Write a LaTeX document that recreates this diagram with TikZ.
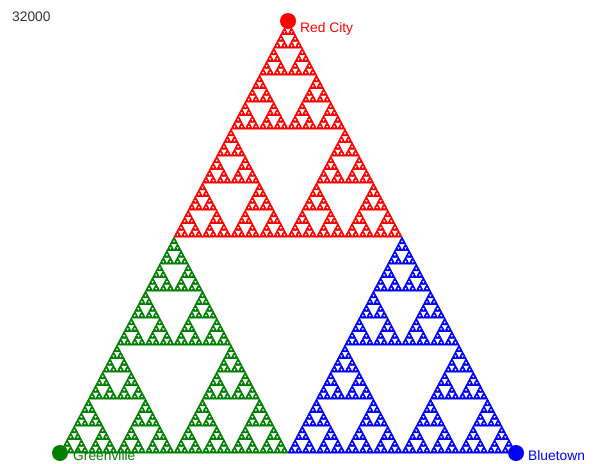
\documentclass[tikz,border=0pt]{standalone}
\usepackage{fontspec}
\setmainfont{Liberation Sans}
\usetikzlibrary{positioning}

\definecolor{cityred}{RGB}{255,0,0}
\definecolor{citygreen}{RGB}{0,128,0}
\definecolor{cityblue}{RGB}{0,0,255}
\definecolor{counttext}{RGB}{51,51,51}

% depth, apex x, apex y, width, height
\newcommand\sierpinski[5]{%
  \ifnum#1=0
    \filldraw (#2,#3) -- ++(-#4/2,#5) -- ++(#4,0) -- cycle;
  \else
    \begingroup
    \pgfmathsetmacro\halfw{#4/2}\pgfmathsetmacro\halfh{#5/2}%
    \pgfmathsetmacro\leftx{#2-#4/4}\pgfmathsetmacro\rightx{#2+#4/4}%
    \pgfmathsetmacro\midy{#3+#5/2}%
    \pgfmathtruncatemacro\nextd{#1-1}%
    \edef\sierpcalls{%
      \noexpand\sierpinski{\nextd}{#2}{#3}{\halfw}{\halfh}%
      \noexpand\sierpinski{\nextd}{\leftx}{\midy}{\halfw}{\halfh}%
      \noexpand\sierpinski{\nextd}{\rightx}{\midy}{\halfw}{\halfh}}%
    \sierpcalls
    \endgroup
  \fi}

\begin{document}
\begin{tikzpicture}[
  x=1pt, y=-1pt,
  every node/.style={font=\fontsize{13.8}{15}\selectfont, inner sep=0pt},
  city/.style={circle, minimum size=16pt, inner sep=0pt},
  cityname/.style={anchor=west},
  dust/.style={fill=#1, draw=#1, line width=0.7pt, line join=round}
]
  \useasboundingbox (0,0) rectangle (596,463);
  \clip (0,0) rectangle (596,463);

  % the three thirds of the triangle
  \begin{scope}[dust=cityred]
    \sierpinski{6}{288}{21}{228}{216}
  \end{scope}
  \begin{scope}[dust=citygreen]
    \sierpinski{6}{174}{237}{228}{216}
  \end{scope}
  \begin{scope}[dust=cityblue]
    \sierpinski{6}{402}{237}{228}{216}
  \end{scope}

  % cities
  \node[city, fill=cityred] (red) at (288,21) {};
  \node[city, fill=citygreen] (green) at (60,453) {};
  \node[city, fill=cityblue] (blue) at (516,453) {};

  \node[cityname, text=cityred] (redname) at (300,29) {Red City};
  \node[cityname, text=citygreen] (greenname) at (73,456) {Greenville};
  \node[cityname, text=cityblue] (bluename) at (528,456) {Bluetown};

  \node[anchor=west, text=counttext] (count) at (12,17) {32000};
\end{tikzpicture}
\end{document}
